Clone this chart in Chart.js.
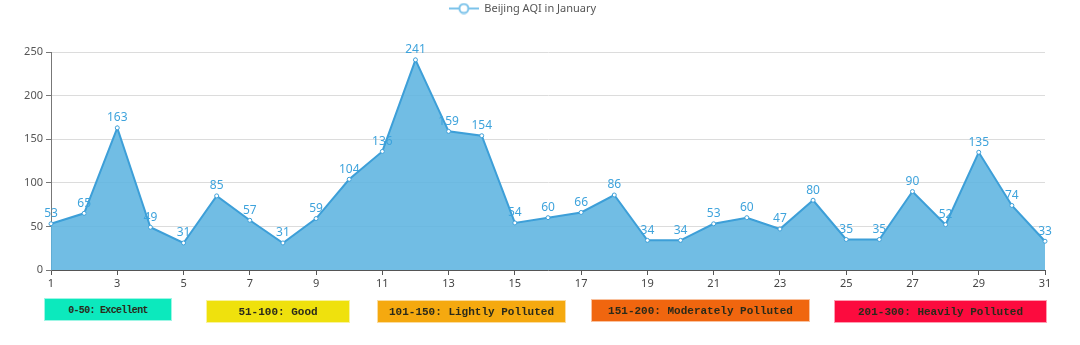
<!DOCTYPE html>
<html>
<head>
<meta charset="utf-8">
<script src="https://cdn.jsdelivr.net/npm/chart.js@4/dist/chart.umd.min.js"></script>
<style>
  html, body { margin: 0; padding: 0; background: #fff; }
  #wrap { position: relative; width: 1080px; height: 345px; }
  .band {
    position: absolute;
    height: 23px;
    line-height: 23px;
    text-align: center;
    font-family: "Liberation Mono", "DejaVu Sans Mono", monospace;
    font-weight: bold;
    color: #2a2a1a;
    box-sizing: border-box;
    border: 1px solid rgba(255,255,255,0.6);
  }
</style>
</head>
<body>
<div id="wrap">
  <canvas id="aqiChart" width="1080" height="345"></canvas>
</div>
<script>
const days = [];
for (let d = 1; d <= 31; d++) days.push(String(d));

const aqiValues = [53, 65, 163, 49, 31, 85, 57, 31, 59, 104, 136, 241, 159, 154, 54,
  60, 66, 86, 34, 34, 53, 60, 47, 80, 35, 35, 90, 52, 135, 74, 33];

const yTicks = [0, 50, 100, 150, 200, 250];

const bandLabels = ['0-50: Excellent', '51-100: Good', '101-150: Lightly Polluted',
  '151-200: Moderately Polluted', '201-300: Heavily Polluted'];
const bandColors = ['#0ce9bd', '#efe10d', '#f5a90f', '#f0660f', '#fc0b3e'];

const lineColor = '#3d9fd8';
const fillColor = 'rgba(93,180,224,0.88)';

// bottom colour bands (plain html)
const bandBoxes = [
  { left: 44, top: 298, width: 128, size: 10, spacing: -0.7 },
  { left: 206, top: 300, width: 144, size: 11, spacing: 0 },
  { left: 377, top: 300, width: 189, size: 11, spacing: 0 },
  { left: 591, top: 299, width: 219, size: 11, spacing: 0 },
  { left: 834, top: 300, width: 213, size: 11, spacing: 0 }
];
const wrap = document.getElementById('wrap');
bandLabels.forEach((txt, i) => {
  const b = document.createElement('div');
  b.className = 'band';
  b.textContent = txt;
  b.style.left = bandBoxes[i].left + 'px';
  b.style.top = bandBoxes[i].top + 'px';
  b.style.width = bandBoxes[i].width + 'px';
  b.style.fontSize = bandBoxes[i].size + 'px';
  b.style.letterSpacing = bandBoxes[i].spacing + 'px';
  b.style.background = bandColors[i];
  wrap.appendChild(b);
});

// legend symbol: line with hollow circle
const sym = document.createElement('canvas');
sym.width = 30;
sym.height = 12;
const sctx = sym.getContext('2d');
sctx.strokeStyle = '#7cc3ea';
sctx.lineWidth = 2;
sctx.beginPath();
sctx.moveTo(0, 6);
sctx.lineTo(30, 6);
sctx.stroke();
sctx.fillStyle = '#fff';
sctx.beginPath();
sctx.arc(15, 6, 4.5, 0, Math.PI * 2);
sctx.fill();
sctx.stroke();

const valueLabels = {
  id: 'valueLabels',
  afterDatasetsDraw(chart) {
    const ctx = chart.ctx;
    const meta = chart.getDatasetMeta(0);
    ctx.save();
    ctx.font = '12px "Noto Sans", sans-serif';
    ctx.fillStyle = '#3ea3dc';
    ctx.textAlign = 'center';
    ctx.textBaseline = 'bottom';
    meta.data.forEach((pt, i) => {
      ctx.fillText(aqiValues[i], pt.x, pt.y - 4);
    });
    ctx.restore();
  }
};

// push the plot down below the legend
const legendGap = {
  id: 'legendGap',
  beforeInit(chart) {
    const fit = chart.legend.fit;
    chart.legend.fit = function () {
      fit.bind(chart.legend)();
      this.height += 28;
    };
  }
};

const ctx = document.getElementById('aqiChart').getContext('2d');
new Chart(ctx, {
  type: 'line',
  data: {
    labels: days,
    datasets: [{
      label: 'Beijing AQI in January',
      data: aqiValues,
      borderColor: lineColor,
      backgroundColor: fillColor,
      borderWidth: 2,
      fill: 'origin',
      tension: 0,
      pointStyle: 'circle',
      pointRadius: 2,
      pointBorderWidth: 1,
      pointBackgroundColor: '#fff',
      pointBorderColor: lineColor
    }]
  },
  options: {
    responsive: false,
    animation: false,
    layout: { padding: { left: 0, right: 35, top: 0, bottom: 55 } },
    plugins: {
      legend: {
        position: 'top',
        labels: {
          usePointStyle: true,
          pointStyle: sym,
          pointStyleWidth: 30,
          font: { size: 11, family: '"Noto Sans", sans-serif' },
          color: '#555',
          padding: 3
        }
      },
      tooltip: { enabled: false }
    },
    scales: {
      x: {
        offset: false,
        grid: {
          drawOnChartArea: false,
          tickLength: 5,
          color: (c) => (c.index % 2 === 0 ? '#555' : 'rgba(0,0,0,0)')
        },
        border: { color: '#555', width: 1 },
        ticks: {
          autoSkip: false,
          maxRotation: 0,
          color: '#444',
          font: { size: 11, family: '"Noto Sans", sans-serif' },
          padding: 2,
          callback: (v, i) => (i % 2 === 0 ? days[i] : '')
        },
        afterFit: (s) => { s.height = 20; }
      },
      y: {
        min: 0,
        max: 250,
        afterBuildTicks: (s) => { s.ticks = yTicks.map(v => ({ value: v })); },
        grid: { color: '#dcdcdc', tickColor: '#777', tickLength: 5 },
        border: { color: '#777', width: 1 },
        ticks: {
          color: '#555',
          font: { size: 11, family: '"Noto Sans", sans-serif' },
          padding: 3
        },
        afterFit: (s) => { s.width = 51; }
      }
    }
  },
  plugins: [valueLabels, legendGap]
});
</script>
</body>
</html>
